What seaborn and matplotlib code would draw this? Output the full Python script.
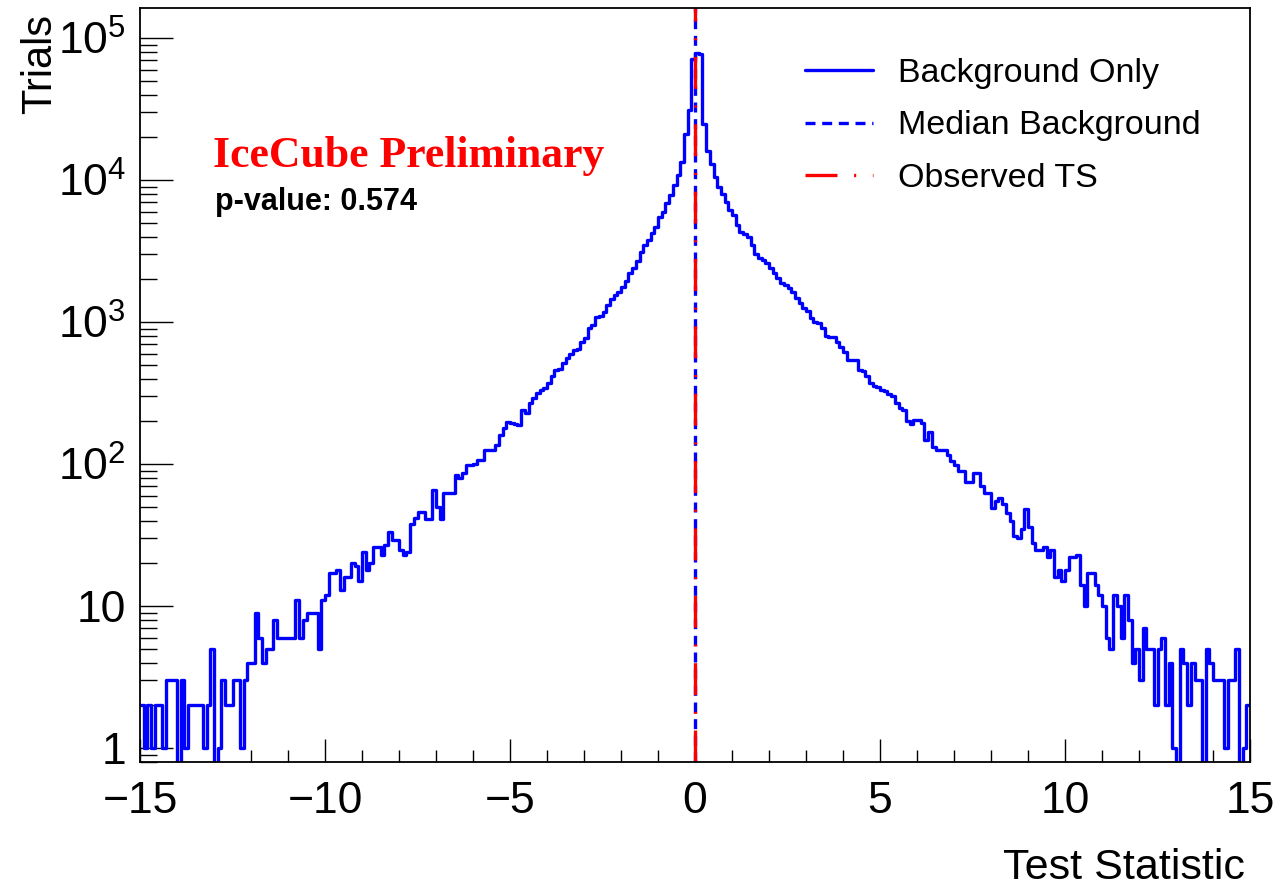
import numpy as np
import pandas as pd
import matplotlib
matplotlib.use("Agg")
import matplotlib.pyplot as plt
import seaborn as sns
from matplotlib.lines import Line2D
from matplotlib.ticker import MultipleLocator, LogLocator, FuncFormatter, NullFormatter

# ---------------- data ----------------
# 0.1-wide bins from -15 to 15, counts of background trials per bin
ts_min, ts_max, bin_width = -15.0, 15.0, 0.1

trials_m15_m10 = [2, 1, 2, 1, 2, 2, 1, 3, 3, 3,
                  0, 3, 1, 2, 2, 2, 2, 1, 2, 5,
                  0, 1, 3, 2, 2, 3, 3, 1, 3, 4,
                  4, 9, 6, 4, 5, 5, 8, 6, 6, 6,
                  6, 6, 11, 6, 8, 9, 9, 9, 5, 11]
trials_m10_m5 = [12, 17, 17, 18, 13, 16, 16, 20, 19, 15,
                 24, 18, 20, 26, 26, 23, 27, 33, 29, 29,
                 25, 23, 24, 38, 42, 46, 46, 41, 41, 66,
                 50, 41, 63, 63, 63, 84, 80, 86, 98, 98,
                 100, 107, 107, 126, 126, 126, 136, 160, 180, 197]
trials_m5_0 = [195, 190, 188, 240, 230, 270, 290, 315, 330, 345,
               375, 420, 460, 470, 515, 555, 600, 640, 650, 720,
               770, 910, 950, 1080, 1100, 1170, 1310, 1450, 1540, 1620,
               1770, 1950, 2200, 2400, 2700, 3100, 3500, 3800, 4250, 4700,
               5500, 5950, 6900, 7800, 9200, 10900, 13500, 21000, 31000, 71000]
trials_0_5 = [78000, 77000, 25000, 16000, 13000, 10500, 9000, 8000, 7000, 6200,
              5650, 4800, 4300, 4200, 3950, 3500, 3000, 2850, 2750, 2600,
              2400, 2200, 2050, 1900, 1820, 1740, 1620, 1470, 1360, 1250,
              1200, 1070, 1000, 980, 910, 800, 790, 780, 720, 670,
              615, 540, 540, 540, 460, 450, 420, 370, 355, 350]
trials_5_10 = [330, 325, 310, 300, 270, 250, 240, 200, 190, 205,
               205, 195, 147, 168, 132, 125, 125, 125, 115, 105,
               98, 90, 90, 75, 75, 86, 86, 70, 63, 63,
               49, 55, 58, 52, 45, 40, 31, 30, 35, 48,
               36, 28, 25, 25, 26, 22, 25, 16, 18, 15]
trials_10_15 = [18, 22, 22, 23, 14, 10, 17, 17, 14, 12,
                10, 6, 5, 12, 10, 6, 12, 8, 4, 5,
                3, 7, 5, 5, 2, 5, 6, 2, 4, 1,
                0, 5, 4, 2, 4, 3, 3, 0, 5, 4,
                3, 3, 3, 1, 3, 3, 5, 0, 1, 2]

median_ts = 0.0
observed_ts = 0.0
p_value = 0.574

legend_labels = ["Background Only", "Median Background", "Observed TS"]

# ---------------- build the table ----------------
counts = np.array(trials_m15_m10 + trials_m10_m5 + trials_m5_0 +
                  trials_0_5 + trials_5_10 + trials_10_15, dtype=float)
n_bins = len(counts)
edges = np.linspace(ts_min, ts_max, n_bins + 1)
centers = 0.5 * (edges[:-1] + edges[1:])
df = pd.DataFrame({"ts": centers, "trials": counts})

# ---------------- style ----------------
sns.set_style("ticks")
plt.rcParams["font.family"] = ["Liberation Sans", "DejaVu Sans"]
plt.rcParams["mathtext.fontset"] = "custom"
plt.rcParams["mathtext.rm"] = "Liberation Sans"
plt.rcParams["lines.scale_dashes"] = False
plt.rcParams["axes.unicode_minus"] = True
plt.rcParams["text.color"] = "black"
plt.rcParams["axes.labelcolor"] = "black"
plt.rcParams["xtick.color"] = "black"
plt.rcParams["ytick.color"] = "black"

BLUE = "#0000ff"
RED = "#ff0000"
LW = 2.4
blue_dash = (0, (7.2, 4.8))
red_dashdot = (0, (23, 12, 1.5, 12))

fig = plt.figure(figsize=(12.73, 8.90), dpi=100)
fig.patch.set_facecolor("white")
ax = fig.add_axes([140 / 1273, 1 - 762 / 890, 1110 / 1273, 754 / 890])

sns.histplot(data=df, x="ts", weights="trials", binwidth=bin_width,
             binrange=(ts_min, ts_max), element="step",
             fill=False, color=BLUE, linewidth=LW, ax=ax)
ax.set_yscale("log")

ax.axvline(median_ts, color=BLUE, lw=LW, linestyle=blue_dash)
ax.axvline(observed_ts, color=RED, lw=LW, linestyle=red_dashdot)

ax.set_xlim(ts_min, ts_max)
ax.set_ylim(0.797, 1.63e5)

# axes / ticks
for sp in ax.spines.values():
    sp.set_visible(True)
    sp.set_color("black")
    sp.set_linewidth(1.3)

ax.xaxis.set_major_locator(MultipleLocator(5))
ax.xaxis.set_minor_locator(MultipleLocator(1))
ax.yaxis.set_major_locator(LogLocator(base=10))
ax.yaxis.set_minor_locator(LogLocator(base=10, subs=np.arange(2, 10)))
ax.yaxis.set_minor_formatter(NullFormatter())


def ylab(v, pos):
    if v < 0.5:
        return ""
    e = int(round(np.log10(v)))
    if e == 0:
        return "1"
    if e == 1:
        return "10"
    return r"$\mathregular{10^{%d}}$" % e


ax.yaxis.set_major_formatter(FuncFormatter(ylab))

ax.tick_params(axis="both", which="both", direction="in", colors="black",
               top=False, right=False, width=1.0)
ax.tick_params(axis="x", which="major", length=16.5, labelsize=32, pad=14)
ax.tick_params(axis="x", which="minor", length=8.3)
ax.tick_params(axis="y", which="major", length=24, labelsize=32, pad=10)
ax.tick_params(axis="y", which="minor", length=12.5)

ax.set_xlabel("Test Statistic", fontsize=31, loc="right", color="black")
ax.xaxis.set_label_coords((1245 - 140) / 1110, -(848 - 762) / 754)
ax.set_ylabel("Trials", fontsize=30, loc="top", color="black")
ax.yaxis.set_label_coords(-(140 - 60) / 1110, (762 - 14) / 754)

# legend
handles = [Line2D([], [], color=BLUE, lw=LW),
           Line2D([], [], color=BLUE, lw=LW, linestyle=blue_dash),
           Line2D([], [], color=RED, lw=LW, linestyle=red_dashdot)]
leg = ax.legend(handles, legend_labels, loc="upper left",
                bbox_to_anchor=(805 / 1273, 1 - 58 / 890),
                bbox_transform=fig.transFigure, frameon=False, fontsize=24.5,
                handlelength=2.0, handletextpad=0.74, labelspacing=0.63,
                borderpad=0, borderaxespad=0)
for t in leg.get_texts():
    t.set_color("black")

# annotations
fig.text(213 / 1273, 1 - 167 / 890, "IceCube Preliminary", color=RED,
         fontsize=31.5, fontweight="bold", family=["Liberation Serif", "DejaVu Serif"],
         ha="left", va="baseline")
fig.text(215 / 1273, 1 - 210 / 890, f"p-value: {p_value:.3f}", color="black",
         fontsize=22, fontweight="bold", ha="left", va="baseline")

fig.savefig("out.png", dpi=100, facecolor="white")
